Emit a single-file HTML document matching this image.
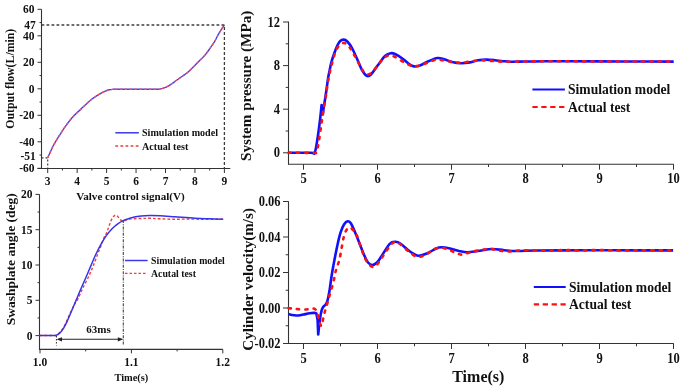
<!DOCTYPE html>
<html><head><meta charset="utf-8"><style>
html,body{margin:0;padding:0;background:#fff;width:685px;height:390px;overflow:hidden}
svg{display:block;filter:blur(0.35px)}
text{font-family:"Liberation Serif",serif;font-weight:bold;fill:#111}
</style></head><body>
<svg width="685" height="390" viewBox="0 0 685 390">
<rect width="685" height="390" fill="#fff"/>
<line x1="41.5" y1="9.3" x2="41.5" y2="169.0" stroke="#333" stroke-width="1.1" />
<line x1="37.5" y1="168.5" x2="230.3" y2="168.5" stroke="#333" stroke-width="1.1" />
<line x1="37.5" y1="168.3" x2="41.5" y2="168.3" stroke="#333" stroke-width="1" />
<line x1="39.5" y1="155.05" x2="41.5" y2="155.05" stroke="#333" stroke-width="1" />
<line x1="37.5" y1="141.8" x2="41.5" y2="141.8" stroke="#333" stroke-width="1" />
<line x1="39.5" y1="128.55" x2="41.5" y2="128.55" stroke="#333" stroke-width="1" />
<line x1="37.5" y1="115.3" x2="41.5" y2="115.3" stroke="#333" stroke-width="1" />
<line x1="39.5" y1="102.05" x2="41.5" y2="102.05" stroke="#333" stroke-width="1" />
<line x1="37.5" y1="88.8" x2="41.5" y2="88.8" stroke="#333" stroke-width="1" />
<line x1="39.5" y1="75.55" x2="41.5" y2="75.55" stroke="#333" stroke-width="1" />
<line x1="37.5" y1="62.3" x2="41.5" y2="62.3" stroke="#333" stroke-width="1" />
<line x1="39.5" y1="49.05" x2="41.5" y2="49.05" stroke="#333" stroke-width="1" />
<line x1="37.5" y1="35.8" x2="41.5" y2="35.8" stroke="#333" stroke-width="1" />
<line x1="39.5" y1="22.549999999999997" x2="41.5" y2="22.549999999999997" stroke="#333" stroke-width="1" />
<line x1="37.5" y1="9.299999999999997" x2="41.5" y2="9.299999999999997" stroke="#333" stroke-width="1" />
<line x1="47.7" y1="168.5" x2="47.7" y2="173.0" stroke="#333" stroke-width="1" />
<line x1="62.425000000000004" y1="168.5" x2="62.425000000000004" y2="170.5" stroke="#333" stroke-width="1" />
<line x1="77.15" y1="168.5" x2="77.15" y2="173.0" stroke="#333" stroke-width="1" />
<line x1="91.875" y1="168.5" x2="91.875" y2="170.5" stroke="#333" stroke-width="1" />
<line x1="106.6" y1="168.5" x2="106.6" y2="173.0" stroke="#333" stroke-width="1" />
<line x1="121.325" y1="168.5" x2="121.325" y2="170.5" stroke="#333" stroke-width="1" />
<line x1="136.05" y1="168.5" x2="136.05" y2="173.0" stroke="#333" stroke-width="1" />
<line x1="150.775" y1="168.5" x2="150.775" y2="170.5" stroke="#333" stroke-width="1" />
<line x1="165.5" y1="168.5" x2="165.5" y2="173.0" stroke="#333" stroke-width="1" />
<line x1="180.22500000000002" y1="168.5" x2="180.22500000000002" y2="170.5" stroke="#333" stroke-width="1" />
<line x1="194.95" y1="168.5" x2="194.95" y2="173.0" stroke="#333" stroke-width="1" />
<line x1="209.675" y1="168.5" x2="209.675" y2="170.5" stroke="#333" stroke-width="1" />
<line x1="224.39999999999998" y1="168.5" x2="224.39999999999998" y2="173.0" stroke="#333" stroke-width="1" />
<text transform="translate(34.5,13.299999999999997) scale(1,1.05)" font-size="11.5" text-anchor="end" >60</text>
<text transform="translate(34.5,39.8) scale(1,1.05)" font-size="11.5" text-anchor="end" >40</text>
<text transform="translate(34.5,66.3) scale(1,1.05)" font-size="11.5" text-anchor="end" >20</text>
<text transform="translate(34.5,92.8) scale(1,1.05)" font-size="11.5" text-anchor="end" >0</text>
<text transform="translate(34.5,119.3) scale(1,1.05)" font-size="11.5" text-anchor="end" >-20</text>
<text transform="translate(34.5,145.8) scale(1,1.05)" font-size="11.5" text-anchor="end" >-40</text>
<text transform="translate(34.5,172.3) scale(1,1.05)" font-size="11.5" text-anchor="end" >-60</text>
<text transform="translate(35.8,29.0) scale(1,1.05)" font-size="11.5" text-anchor="end" >47</text>
<text transform="translate(35.8,160.4) scale(1,1.05)" font-size="11.5" text-anchor="end" >-51</text>
<text transform="translate(47.7,185.0) scale(1,1.05)" font-size="11.5" text-anchor="middle" >3</text>
<text transform="translate(77.15,185.0) scale(1,1.05)" font-size="11.5" text-anchor="middle" >4</text>
<text transform="translate(106.6,185.0) scale(1,1.05)" font-size="11.5" text-anchor="middle" >5</text>
<text transform="translate(136.05,185.0) scale(1,1.05)" font-size="11.5" text-anchor="middle" >6</text>
<text transform="translate(165.5,185.0) scale(1,1.05)" font-size="11.5" text-anchor="middle" >7</text>
<text transform="translate(194.95,185.0) scale(1,1.05)" font-size="11.5" text-anchor="middle" >8</text>
<text transform="translate(224.39999999999998,185.0) scale(1,1.05)" font-size="11.5" text-anchor="middle" >9</text>
<text x="130.5" y="199.6" font-size="11.1" text-anchor="middle" >Valve control signal(V)</text>
<text transform="translate(14.3,78.7) rotate(-90)" font-size="11.8" text-anchor="middle">Output flow(L/min)</text>
<path d="M41.5,25 H224.4 V168.5" fill="none" stroke="#3c3c3c" stroke-width="1.3" stroke-dasharray="2.8,2.2"/>
<path d="M41.5,157.8 H47.7 V168.5" fill="none" stroke="#3c3c3c" stroke-width="1.2" stroke-dasharray="2,2"/>
<path d="M47.70,157.80 C48.17,156.77 49.60,153.57 50.50,151.60 C51.40,149.63 52.10,147.90 53.10,146.00 C54.10,144.10 55.42,142.00 56.50,140.20 C57.58,138.40 58.00,137.67 59.60,135.20 C61.20,132.73 63.92,128.43 66.10,125.40 C68.28,122.37 70.25,119.70 72.70,117.00 C75.15,114.30 78.30,111.58 80.80,109.20 C83.30,106.82 85.78,104.43 87.70,102.70 C89.62,100.97 90.88,99.90 92.30,98.80 C93.72,97.70 94.78,97.00 96.20,96.10 C97.62,95.20 99.27,94.22 100.80,93.40 C102.33,92.58 104.00,91.80 105.40,91.20 C106.80,90.60 107.92,90.12 109.20,89.80 C110.48,89.48 111.80,89.40 113.10,89.30 C114.40,89.20 109.85,89.22 117.00,89.20 C124.15,89.18 148.90,89.22 156.00,89.20 C163.10,89.18 158.23,89.32 159.60,89.10 C160.97,88.88 162.78,88.38 164.20,87.90 C165.62,87.42 166.82,86.88 168.10,86.20 C169.38,85.52 170.62,84.70 171.90,83.80 C173.18,82.90 174.52,81.75 175.80,80.80 C177.08,79.85 178.32,79.00 179.60,78.10 C180.88,77.20 182.22,76.30 183.50,75.40 C184.78,74.50 186.00,73.77 187.30,72.70 C188.60,71.63 189.57,70.68 191.30,69.00 C193.03,67.32 195.35,65.00 197.70,62.60 C200.05,60.20 203.27,57.10 205.40,54.60 C207.53,52.10 209.00,49.73 210.50,47.60 C212.00,45.47 213.12,43.95 214.40,41.80 C215.68,39.65 217.03,36.78 218.20,34.70 C219.37,32.62 220.37,30.92 221.40,29.30 C222.43,27.68 223.90,25.72 224.40,25.00" fill="none" stroke="#4040f2" stroke-width="1.4"/>
<path d="M47.70,157.80 C48.17,156.77 49.60,153.57 50.50,151.60 C51.40,149.63 52.10,147.90 53.10,146.00 C54.10,144.10 55.42,142.00 56.50,140.20 C57.58,138.40 58.00,137.67 59.60,135.20 C61.20,132.73 63.92,128.43 66.10,125.40 C68.28,122.37 70.25,119.70 72.70,117.00 C75.15,114.30 78.30,111.58 80.80,109.20 C83.30,106.82 85.78,104.43 87.70,102.70 C89.62,100.97 90.88,99.90 92.30,98.80 C93.72,97.70 94.78,97.00 96.20,96.10 C97.62,95.20 99.27,94.22 100.80,93.40 C102.33,92.58 104.00,91.80 105.40,91.20 C106.80,90.60 107.92,90.12 109.20,89.80 C110.48,89.48 111.80,89.40 113.10,89.30 C114.40,89.20 109.85,89.22 117.00,89.20 C124.15,89.18 148.90,89.22 156.00,89.20 C163.10,89.18 158.23,89.32 159.60,89.10 C160.97,88.88 162.78,88.38 164.20,87.90 C165.62,87.42 166.82,86.88 168.10,86.20 C169.38,85.52 170.62,84.70 171.90,83.80 C173.18,82.90 174.52,81.75 175.80,80.80 C177.08,79.85 178.32,79.00 179.60,78.10 C180.88,77.20 182.22,76.30 183.50,75.40 C184.78,74.50 186.00,73.77 187.30,72.70 C188.60,71.63 189.57,70.68 191.30,69.00 C193.03,67.32 195.35,65.00 197.70,62.60 C200.05,60.20 203.27,57.10 205.40,54.60 C207.53,52.10 209.00,49.73 210.50,47.60 C212.00,45.47 213.12,43.95 214.40,41.80 C215.68,39.65 217.03,36.78 218.20,34.70 C219.37,32.62 220.37,30.92 221.40,29.30 C222.43,27.68 223.90,25.72 224.40,25.00" fill="none" stroke="#ff5050" stroke-width="1.4" stroke-dasharray="2.4,2.4"/>
<line x1="115.3" y1="132.8" x2="138.9" y2="132.8" stroke="#3a3ae8" stroke-width="1.5" />
<line x1="115.3" y1="146" x2="138.9" y2="146" stroke="#f03c3c" stroke-width="1.4" stroke-dasharray="2.8,2.3"/>
<text x="142" y="136.3" font-size="10.1" text-anchor="start" >Simulation model</text>
<text x="142" y="149.5" font-size="10.1" text-anchor="start" >Actual test</text>
<line x1="39.5" y1="194.4" x2="39.5" y2="349.9" stroke="#333" stroke-width="1.1" />
<line x1="39.5" y1="349.4" x2="222.8" y2="349.4" stroke="#333" stroke-width="1.1" />
<line x1="35.5" y1="335.6" x2="39.5" y2="335.6" stroke="#333" stroke-width="1" />
<line x1="37.5" y1="317.95000000000005" x2="39.5" y2="317.95000000000005" stroke="#333" stroke-width="1" />
<line x1="35.5" y1="300.3" x2="39.5" y2="300.3" stroke="#333" stroke-width="1" />
<line x1="37.5" y1="282.65000000000003" x2="39.5" y2="282.65000000000003" stroke="#333" stroke-width="1" />
<line x1="35.5" y1="265.0" x2="39.5" y2="265.0" stroke="#333" stroke-width="1" />
<line x1="37.5" y1="247.35000000000002" x2="39.5" y2="247.35000000000002" stroke="#333" stroke-width="1" />
<line x1="35.5" y1="229.70000000000005" x2="39.5" y2="229.70000000000005" stroke="#333" stroke-width="1" />
<line x1="37.5" y1="212.05" x2="39.5" y2="212.05" stroke="#333" stroke-width="1" />
<line x1="35.5" y1="194.40000000000003" x2="39.5" y2="194.40000000000003" stroke="#333" stroke-width="1" />
<line x1="40.0" y1="349.4" x2="40.0" y2="353.4" stroke="#333" stroke-width="1" />
<line x1="85.70000000000005" y1="349.4" x2="85.70000000000005" y2="351.4" stroke="#333" stroke-width="1" />
<line x1="131.4000000000001" y1="349.4" x2="131.4000000000001" y2="353.4" stroke="#333" stroke-width="1" />
<line x1="177.0999999999999" y1="349.4" x2="177.0999999999999" y2="351.4" stroke="#333" stroke-width="1" />
<line x1="222.79999999999995" y1="349.4" x2="222.79999999999995" y2="353.4" stroke="#333" stroke-width="1" />
<text transform="translate(32.5,339.6) scale(1,1.05)" font-size="11.5" text-anchor="end" >0</text>
<text transform="translate(32.5,304.3) scale(1,1.05)" font-size="11.5" text-anchor="end" >5</text>
<text transform="translate(32.5,269.0) scale(1,1.05)" font-size="11.5" text-anchor="end" >10</text>
<text transform="translate(32.5,233.70000000000005) scale(1,1.05)" font-size="11.5" text-anchor="end" >15</text>
<text transform="translate(32.5,198.40000000000003) scale(1,1.05)" font-size="11.5" text-anchor="end" >20</text>
<text transform="translate(40.0,366.2) scale(1,1.05)" font-size="11.5" text-anchor="middle" >1.0</text>
<text transform="translate(131.4000000000001,366.2) scale(1,1.05)" font-size="11.5" text-anchor="middle" >1.1</text>
<text transform="translate(222.79999999999995,366.2) scale(1,1.05)" font-size="11.5" text-anchor="middle" >1.2</text>
<text x="131.4" y="381" font-size="10.4" text-anchor="middle" >Time(s)</text>
<text transform="translate(14.6,259.2) rotate(-90)" font-size="13.5" text-anchor="middle">Swashplate angle (deg)</text>
<path d="M39.50,335.50 C41.75,335.50 50.17,335.55 53.00,335.50 C55.83,335.45 55.33,335.75 56.50,335.20 C57.67,334.65 58.83,333.48 60.00,332.20 C61.17,330.92 62.42,329.28 63.50,327.50 C64.58,325.72 65.42,323.83 66.50,321.50 C67.58,319.17 68.77,316.17 70.00,313.50 C71.23,310.83 72.55,308.00 73.90,305.50 C75.25,303.00 76.65,301.33 78.10,298.50 C79.55,295.67 80.82,292.22 82.60,288.50 C84.38,284.78 87.00,280.05 88.80,276.20 C90.60,272.35 91.88,269.18 93.40,265.40 C94.92,261.62 96.65,256.73 97.90,253.50 C99.15,250.27 99.93,248.53 100.90,246.00 C101.87,243.47 102.77,240.43 103.70,238.30 C104.63,236.17 105.55,235.42 106.50,233.20 C107.45,230.98 108.43,227.52 109.40,225.00 C110.37,222.48 111.32,219.73 112.30,218.10 C113.28,216.47 114.33,215.40 115.30,215.20 C116.27,215.00 117.25,216.13 118.10,216.90 C118.95,217.67 119.53,219.12 120.40,219.80 C121.27,220.48 121.97,221.10 123.30,221.00 C124.63,220.90 126.58,219.58 128.40,219.20 C130.22,218.82 131.88,218.82 134.20,218.70 C136.52,218.58 139.67,218.57 142.30,218.50 C144.93,218.43 147.05,218.25 150.00,218.30 C152.95,218.35 155.83,218.63 160.00,218.80 C164.17,218.97 170.00,219.27 175.00,219.30 C180.00,219.33 185.00,218.98 190.00,219.00 C195.00,219.02 199.47,219.37 205.00,219.40 C210.53,219.43 220.17,219.23 223.20,219.20" fill="none" stroke="#f03c3c" stroke-width="1.4" stroke-dasharray="2.8,2"/>
<path d="M39.50,335.50 C41.75,335.50 50.25,335.52 53.00,335.50 C55.75,335.48 54.93,335.75 56.00,335.40 C57.07,335.05 58.15,334.58 59.40,333.40 C60.65,332.22 62.25,330.22 63.50,328.30 C64.75,326.38 65.75,324.32 66.90,321.90 C68.05,319.48 69.25,316.48 70.40,313.80 C71.55,311.12 72.78,308.22 73.80,305.80 C74.82,303.38 75.40,301.93 76.50,299.30 C77.60,296.67 78.85,293.60 80.40,290.00 C81.95,286.40 84.13,281.55 85.80,277.70 C87.47,273.85 88.82,270.60 90.40,266.90 C91.98,263.20 93.57,259.22 95.30,255.50 C97.03,251.78 98.93,247.95 100.80,244.60 C102.67,241.25 104.58,238.08 106.50,235.40 C108.42,232.72 110.37,230.47 112.30,228.50 C114.23,226.53 116.27,224.92 118.10,223.60 C119.93,222.28 121.38,221.48 123.30,220.60 C125.22,219.72 127.78,218.92 129.60,218.30 C131.42,217.68 132.30,217.28 134.20,216.90 C136.10,216.52 138.50,216.22 141.00,216.00 C143.50,215.78 146.03,215.63 149.20,215.60 C152.37,215.57 155.70,215.60 160.00,215.80 C164.30,216.00 169.17,216.40 175.00,216.80 C180.83,217.20 189.17,217.87 195.00,218.20 C200.83,218.53 205.30,218.63 210.00,218.80 C214.70,218.97 221.00,219.13 223.20,219.20" fill="none" stroke="#3434ec" stroke-width="1.5"/>
<line x1="56.4" y1="336" x2="56.4" y2="345.5" stroke="#222" stroke-width="1" stroke-dasharray="1.5,1.5"/>
<line x1="123.3" y1="220" x2="123.3" y2="345.5" stroke="#444" stroke-width="1.1" stroke-dasharray="3,1.2,1,1.2"/>
<line x1="58" y1="339.3" x2="121.5" y2="339.3" stroke="#222" stroke-width="1.1" />
<path d="M56.6,339.3 L62,337.2 L62,341.4 Z" fill="#222"/>
<path d="M123.2,339.3 L117.8,337.2 L117.8,341.4 Z" fill="#222"/>
<text x="98.5" y="333.2" font-size="11" text-anchor="middle" >63ms</text>
<line x1="125" y1="260.5" x2="147.6" y2="260.5" stroke="#3a3ae8" stroke-width="1.5" />
<line x1="125" y1="273.4" x2="147.6" y2="273.4" stroke="#f03c3c" stroke-width="1.3" stroke-dasharray="2.5,2"/>
<text x="151" y="264" font-size="9.8" text-anchor="start" >Simulation model</text>
<text x="151" y="277" font-size="9.8" text-anchor="start" >Acutal test</text>
<line x1="288.5" y1="21.6" x2="288.5" y2="164.7" stroke="#333" stroke-width="1.1" />
<line x1="288.5" y1="164.2" x2="673.7" y2="164.2" stroke="#333" stroke-width="1.1" />
<line x1="283.0" y1="152.8" x2="288.5" y2="152.8" stroke="#333" stroke-width="1" />
<line x1="285.7" y1="131.0" x2="288.5" y2="131.0" stroke="#333" stroke-width="1" />
<line x1="283.0" y1="109.20000000000002" x2="288.5" y2="109.20000000000002" stroke="#333" stroke-width="1" />
<line x1="285.7" y1="87.4" x2="288.5" y2="87.4" stroke="#333" stroke-width="1" />
<line x1="283.0" y1="65.60000000000001" x2="288.5" y2="65.60000000000001" stroke="#333" stroke-width="1" />
<line x1="285.7" y1="43.80000000000001" x2="288.5" y2="43.80000000000001" stroke="#333" stroke-width="1" />
<line x1="283.0" y1="22.0" x2="288.5" y2="22.0" stroke="#333" stroke-width="1" />
<line x1="303.5" y1="164.2" x2="303.5" y2="169.7" stroke="#333" stroke-width="1" />
<line x1="340.5" y1="164.2" x2="340.5" y2="167.0" stroke="#333" stroke-width="1" />
<line x1="377.5" y1="164.2" x2="377.5" y2="169.7" stroke="#333" stroke-width="1" />
<line x1="414.5" y1="164.2" x2="414.5" y2="167.0" stroke="#333" stroke-width="1" />
<line x1="451.5" y1="164.2" x2="451.5" y2="169.7" stroke="#333" stroke-width="1" />
<line x1="488.5" y1="164.2" x2="488.5" y2="167.0" stroke="#333" stroke-width="1" />
<line x1="525.5" y1="164.2" x2="525.5" y2="169.7" stroke="#333" stroke-width="1" />
<line x1="562.5" y1="164.2" x2="562.5" y2="167.0" stroke="#333" stroke-width="1" />
<line x1="599.5" y1="164.2" x2="599.5" y2="169.7" stroke="#333" stroke-width="1" />
<line x1="636.5" y1="164.2" x2="636.5" y2="167.0" stroke="#333" stroke-width="1" />
<line x1="673.5" y1="164.2" x2="673.5" y2="169.7" stroke="#333" stroke-width="1" />
<text transform="translate(280,157.4) scale(1,1.14)" font-size="12.5" text-anchor="end" >0</text>
<text transform="translate(280,113.80000000000001) scale(1,1.14)" font-size="12.5" text-anchor="end" >4</text>
<text transform="translate(280,70.2) scale(1,1.14)" font-size="12.5" text-anchor="end" >8</text>
<text transform="translate(280,26.6) scale(1,1.14)" font-size="12.5" text-anchor="end" >12</text>
<text transform="translate(303.5,182.8) scale(1,1.14)" font-size="12.5" text-anchor="middle" >5</text>
<text transform="translate(377.5,182.8) scale(1,1.14)" font-size="12.5" text-anchor="middle" >6</text>
<text transform="translate(451.5,182.8) scale(1,1.14)" font-size="12.5" text-anchor="middle" >7</text>
<text transform="translate(525.5,182.8) scale(1,1.14)" font-size="12.5" text-anchor="middle" >8</text>
<text transform="translate(599.5,182.8) scale(1,1.14)" font-size="12.5" text-anchor="middle" >9</text>
<text transform="translate(673.5,182.8) scale(1,1.14)" font-size="12.5" text-anchor="middle" >10</text>
<text transform="translate(250.6,85.85) rotate(-90)" font-size="15.2" text-anchor="middle">System pressure (MPa)</text>
<path d="M288.50,152.80 C292.25,152.80 306.62,152.85 311.00,152.80 C315.38,152.75 313.68,155.10 314.80,152.50 C315.92,149.90 316.85,142.45 317.70,137.20 C318.55,131.95 319.25,126.37 319.90,121.00 C320.55,115.63 321.32,107.67 321.60,105.00 L322.80,114.50 L323.60,108.00 C323.85,106.50 324.60,102.17 325.10,99.00 C325.60,95.83 326.08,92.58 326.60,89.00 C327.12,85.42 327.70,80.58 328.20,77.50 C328.70,74.42 329.08,73.00 329.60,70.50 C330.12,68.00 330.53,65.33 331.30,62.50 C332.07,59.67 333.23,56.25 334.20,53.50 C335.17,50.75 336.13,48.05 337.10,46.00 C338.07,43.95 338.90,42.27 340.00,41.20 C341.10,40.13 342.48,39.55 343.70,39.60 C344.92,39.65 345.92,40.10 347.30,41.50 C348.68,42.90 350.22,44.75 352.00,48.00 C353.78,51.25 356.33,57.33 358.00,61.00 C359.67,64.67 360.55,67.52 362.00,70.00 C363.45,72.48 365.20,75.15 366.70,75.90 C368.20,76.65 369.12,76.32 371.00,74.50 C372.88,72.68 375.67,68.08 378.00,65.00 C380.33,61.92 382.88,57.97 385.00,56.00 C387.12,54.03 388.87,53.45 390.70,53.20 C392.53,52.95 393.95,53.53 396.00,54.50 C398.05,55.47 400.83,57.42 403.00,59.00 C405.17,60.58 407.17,62.77 409.00,64.00 C410.83,65.23 412.17,66.15 414.00,66.40 C415.83,66.65 417.67,66.32 420.00,65.50 C422.33,64.68 425.10,62.75 428.00,61.50 C430.90,60.25 434.57,58.33 437.40,58.00 C440.23,57.67 442.57,58.83 445.00,59.50 C447.43,60.17 449.38,61.38 452.00,62.00 C454.62,62.62 457.70,63.13 460.70,63.20 C463.70,63.27 467.12,62.88 470.00,62.40 C472.88,61.92 475.30,60.77 478.00,60.30 C480.70,59.83 483.37,59.62 486.20,59.60 C489.03,59.58 492.20,59.93 495.00,60.20 C497.80,60.47 500.20,60.93 503.00,61.20 C505.80,61.47 508.13,61.75 511.80,61.80 C515.47,61.85 519.47,61.60 525.00,61.50 C530.53,61.40 537.50,61.23 545.00,61.20 C552.50,61.17 560.83,61.27 570.00,61.30 C579.17,61.33 588.33,61.37 600.00,61.40 C611.67,61.43 627.72,61.47 640.00,61.50 C652.28,61.53 668.08,61.58 673.70,61.60" fill="none" stroke="#1010ff" stroke-width="2.6" stroke-linejoin="round"/>
<path d="M288.50,152.80 C292.58,152.80 308.38,152.87 313.00,152.80 C317.62,152.73 315.30,153.88 316.20,152.40 C317.10,150.92 317.67,147.67 318.40,143.90 C319.13,140.13 319.98,133.90 320.60,129.80 C321.22,125.70 321.60,122.78 322.10,119.30 C322.60,115.82 323.02,112.45 323.60,108.90 C324.18,105.35 325.10,100.98 325.60,98.00 C326.10,95.02 326.20,93.78 326.60,91.00 C327.00,88.22 327.43,84.55 328.00,81.30 C328.57,78.05 329.28,74.67 330.00,71.50 C330.72,68.33 331.43,65.45 332.30,62.30 C333.17,59.15 334.08,55.38 335.20,52.60 C336.32,49.82 337.57,47.20 339.00,45.60 C340.43,44.00 342.35,43.05 343.80,43.00 C345.25,42.95 346.33,43.97 347.70,45.30 C349.07,46.63 350.28,48.22 352.00,51.00 C353.72,53.78 356.33,58.92 358.00,62.00 C359.67,65.08 360.67,67.48 362.00,69.50 C363.33,71.52 364.58,73.43 366.00,74.10 C367.42,74.77 368.67,74.77 370.50,73.50 C372.33,72.23 374.92,68.92 377.00,66.50 C379.08,64.08 381.08,60.85 383.00,59.00 C384.92,57.15 386.67,55.82 388.50,55.40 C390.33,54.98 391.92,55.65 394.00,56.50 C396.08,57.35 398.67,59.17 401.00,60.50 C403.33,61.83 405.83,63.58 408.00,64.50 C410.17,65.42 412.00,65.83 414.00,66.00 C416.00,66.17 417.67,66.08 420.00,65.50 C422.33,64.92 425.37,63.45 428.00,62.50 C430.63,61.55 433.13,60.13 435.80,59.80 C438.47,59.47 441.30,60.13 444.00,60.50 C446.70,60.87 449.22,61.62 452.00,62.00 C454.78,62.38 457.70,62.88 460.70,62.80 C463.70,62.72 466.62,61.92 470.00,61.50 C473.38,61.08 477.67,60.42 481.00,60.30 C484.33,60.18 486.83,60.58 490.00,60.80 C493.17,61.02 496.33,61.43 500.00,61.60 C503.67,61.77 507.83,61.82 512.00,61.80 C516.17,61.78 519.50,61.58 525.00,61.50 C530.50,61.42 537.50,61.33 545.00,61.30 C552.50,61.27 560.83,61.27 570.00,61.30 C579.17,61.33 588.33,61.47 600.00,61.50 C611.67,61.53 627.72,61.48 640.00,61.50 C652.28,61.52 668.08,61.58 673.70,61.60" fill="none" stroke="#ff1010" stroke-width="2.6" stroke-dasharray="2.3,6.1" stroke-linecap="round"/>
<line x1="532.4" y1="89.5" x2="564.9" y2="89.5" stroke="#1010ff" stroke-width="2.2" />
<line x1="532.4" y1="107" x2="564.9" y2="107" stroke="#ff1010" stroke-width="2.2" stroke-dasharray="5.3,3.6"/>
<text x="568" y="94.3" font-size="13.6" text-anchor="start" >Simulation model</text>
<text x="568" y="111.8" font-size="13.6" text-anchor="start" >Actual test</text>
<line x1="288.5" y1="201.3" x2="288.5" y2="344.0" stroke="#333" stroke-width="1.1" />
<line x1="288.5" y1="343.5" x2="673.7" y2="343.5" stroke="#333" stroke-width="1.1" />
<line x1="283.0" y1="343.5" x2="288.5" y2="343.5" stroke="#333" stroke-width="1" />
<line x1="285.7" y1="325.75" x2="288.5" y2="325.75" stroke="#333" stroke-width="1" />
<line x1="283.0" y1="308.0" x2="288.5" y2="308.0" stroke="#333" stroke-width="1" />
<line x1="285.7" y1="290.25" x2="288.5" y2="290.25" stroke="#333" stroke-width="1" />
<line x1="283.0" y1="272.5" x2="288.5" y2="272.5" stroke="#333" stroke-width="1" />
<line x1="285.7" y1="254.75" x2="288.5" y2="254.75" stroke="#333" stroke-width="1" />
<line x1="283.0" y1="237.0" x2="288.5" y2="237.0" stroke="#333" stroke-width="1" />
<line x1="285.7" y1="219.25" x2="288.5" y2="219.25" stroke="#333" stroke-width="1" />
<line x1="283.0" y1="201.5" x2="288.5" y2="201.5" stroke="#333" stroke-width="1" />
<line x1="303.5" y1="343.5" x2="303.5" y2="349.0" stroke="#333" stroke-width="1" />
<line x1="340.5" y1="343.5" x2="340.5" y2="346.3" stroke="#333" stroke-width="1" />
<line x1="377.5" y1="343.5" x2="377.5" y2="349.0" stroke="#333" stroke-width="1" />
<line x1="414.5" y1="343.5" x2="414.5" y2="346.3" stroke="#333" stroke-width="1" />
<line x1="451.5" y1="343.5" x2="451.5" y2="349.0" stroke="#333" stroke-width="1" />
<line x1="488.5" y1="343.5" x2="488.5" y2="346.3" stroke="#333" stroke-width="1" />
<line x1="525.5" y1="343.5" x2="525.5" y2="349.0" stroke="#333" stroke-width="1" />
<line x1="562.5" y1="343.5" x2="562.5" y2="346.3" stroke="#333" stroke-width="1" />
<line x1="599.5" y1="343.5" x2="599.5" y2="349.0" stroke="#333" stroke-width="1" />
<line x1="636.5" y1="343.5" x2="636.5" y2="346.3" stroke="#333" stroke-width="1" />
<line x1="673.5" y1="343.5" x2="673.5" y2="349.0" stroke="#333" stroke-width="1" />
<text transform="translate(280.5,206.1) scale(1,1.14)" font-size="12.5" text-anchor="end" >0.06</text>
<text transform="translate(280.5,241.6) scale(1,1.14)" font-size="12.5" text-anchor="end" >0.04</text>
<text transform="translate(280.5,277.1) scale(1,1.14)" font-size="12.5" text-anchor="end" >0.02</text>
<text transform="translate(280.5,312.6) scale(1,1.14)" font-size="12.5" text-anchor="end" >0.00</text>
<text transform="translate(280.5,348.1) scale(1,1.14)" font-size="12.5" text-anchor="end" >-0.02</text>
<text transform="translate(303.5,363.3) scale(1,1.14)" font-size="12.5" text-anchor="middle" >5</text>
<text transform="translate(377.5,363.3) scale(1,1.14)" font-size="12.5" text-anchor="middle" >6</text>
<text transform="translate(451.5,363.3) scale(1,1.14)" font-size="12.5" text-anchor="middle" >7</text>
<text transform="translate(525.5,363.3) scale(1,1.14)" font-size="12.5" text-anchor="middle" >8</text>
<text transform="translate(599.5,363.3) scale(1,1.14)" font-size="12.5" text-anchor="middle" >9</text>
<text transform="translate(673.5,363.3) scale(1,1.14)" font-size="12.5" text-anchor="middle" >10</text>
<text x="478.3" y="382" font-size="16" text-anchor="middle" >Time(s)</text>
<text transform="translate(253,279.4) rotate(-90)" font-size="15.1" text-anchor="middle">Cylinder velocity(m/s)</text>
<path d="M288.50,314.10 C289.08,314.25 290.73,314.77 292.00,315.00 C293.27,315.23 294.77,315.45 296.10,315.50 C297.43,315.55 298.77,315.45 300.00,315.30 C301.23,315.15 301.90,314.95 303.50,314.60 C305.10,314.25 307.77,313.48 309.60,313.20 C311.43,312.92 313.37,312.87 314.50,312.90 C315.63,312.93 316.08,313.32 316.40,313.40 L317.60,320.00 L318.20,334.50 L319.40,323.00 C319.67,321.33 320.52,315.42 321.00,313.00 C321.48,310.58 321.83,309.63 322.30,308.50 C322.77,307.37 323.20,306.90 323.80,306.20 C324.40,305.50 325.30,305.20 325.90,304.30 C326.50,303.40 326.95,302.27 327.40,300.80 C327.85,299.33 328.23,297.30 328.60,295.50 C328.97,293.70 329.03,293.67 329.60,290.00 C330.17,286.33 331.03,279.32 332.00,273.50 C332.97,267.68 334.40,260.27 335.40,255.10 C336.40,249.93 337.15,246.25 338.00,242.50 C338.85,238.75 339.50,235.60 340.50,232.60 C341.50,229.60 342.80,226.38 344.00,224.50 C345.20,222.62 346.53,221.47 347.70,221.30 C348.87,221.13 349.47,220.93 351.00,223.50 C352.53,226.07 354.72,231.43 356.90,236.70 C359.08,241.97 362.25,250.80 364.10,255.10 C365.95,259.40 366.63,260.85 368.00,262.50 C369.37,264.15 370.80,265.00 372.30,265.00 C373.80,265.00 375.47,263.97 377.00,262.50 C378.53,261.03 379.38,259.32 381.50,256.20 C383.62,253.08 387.37,246.20 389.70,243.80 C392.03,241.40 393.62,241.77 395.50,241.80 C397.38,241.83 398.58,242.38 401.00,244.00 C403.42,245.62 407.08,249.55 410.00,251.50 C412.92,253.45 415.50,255.45 418.50,255.70 C421.50,255.95 425.08,254.20 428.00,253.00 C430.92,251.80 433.70,249.45 436.00,248.50 C438.30,247.55 439.47,247.30 441.80,247.30 C444.13,247.30 447.13,247.88 450.00,248.50 C452.87,249.12 456.10,250.37 459.00,251.00 C461.90,251.63 464.23,252.30 467.40,252.30 C470.57,252.30 473.90,251.55 478.00,251.00 C482.10,250.45 487.67,249.13 492.00,249.00 C496.33,248.87 500.00,249.87 504.00,250.20 C508.00,250.53 510.83,250.95 516.00,251.00 C521.17,251.05 527.67,250.60 535.00,250.50 C542.33,250.40 549.17,250.43 560.00,250.40 C570.83,250.37 586.67,250.30 600.00,250.30 C613.33,250.30 627.82,250.38 640.00,250.40 C652.18,250.42 667.58,250.40 673.10,250.40" fill="none" stroke="#1010ff" stroke-width="2.6" stroke-linejoin="round"/>
<path d="M288.50,308.20 C289.25,308.27 291.53,308.45 293.00,308.60 C294.47,308.75 295.45,308.93 297.30,309.10 C299.15,309.27 302.23,309.58 304.10,309.60 C305.97,309.62 307.07,309.40 308.50,309.20 C309.93,309.00 311.53,308.33 312.70,308.40 C313.87,308.47 314.75,308.87 315.50,309.60 C316.25,310.33 316.62,311.02 317.20,312.80 C317.78,314.58 318.40,318.22 319.00,320.30 C319.60,322.38 320.33,324.47 320.80,325.30 C321.27,326.13 321.38,326.52 321.80,325.30 C322.22,324.08 322.73,320.50 323.30,318.00 C323.87,315.50 324.52,312.78 325.20,310.30 C325.88,307.82 326.73,305.37 327.40,303.10 C328.07,300.83 328.22,300.13 329.20,296.70 C330.18,293.27 332.17,286.95 333.30,282.50 C334.43,278.05 334.97,273.88 336.00,270.00 C337.03,266.12 338.23,264.58 339.50,259.20 C340.77,253.82 342.43,242.57 343.60,237.70 C344.77,232.83 345.48,231.72 346.50,230.00 C347.52,228.28 348.62,227.40 349.70,227.40 C350.78,227.40 351.80,228.63 353.00,230.00 C354.20,231.37 355.05,231.23 356.90,235.60 C358.75,239.97 362.08,251.38 364.10,256.20 C366.12,261.02 367.40,262.70 369.00,264.50 C370.60,266.30 372.28,267.08 373.70,267.00 C375.12,266.92 376.20,265.47 377.50,264.00 C378.80,262.53 379.28,261.38 381.50,258.20 C383.72,255.02 388.53,247.57 390.80,244.90 C393.07,242.23 393.57,242.35 395.10,242.20 C396.63,242.05 397.85,242.53 400.00,244.00 C402.15,245.47 405.17,248.87 408.00,251.00 C410.83,253.13 414.17,256.13 417.00,256.80 C419.83,257.47 422.33,256.13 425.00,255.00 C427.67,253.87 430.43,251.23 433.00,250.00 C435.57,248.77 437.90,247.68 440.40,247.60 C442.90,247.52 445.57,248.68 448.00,249.50 C450.43,250.32 452.75,251.65 455.00,252.50 C457.25,253.35 459.20,254.57 461.50,254.60 C463.80,254.63 466.05,253.38 468.80,252.70 C471.55,252.02 474.47,251.12 478.00,250.50 C481.53,249.88 486.33,248.95 490.00,249.00 C493.67,249.05 496.67,250.38 500.00,250.80 C503.33,251.22 506.67,251.55 510.00,251.50 C513.33,251.45 515.83,250.72 520.00,250.50 C524.17,250.28 530.00,250.15 535.00,250.20 C540.00,250.25 545.00,250.83 550.00,250.80 C555.00,250.77 560.00,250.05 565.00,250.00 C570.00,249.95 574.17,250.50 580.00,250.50 C585.83,250.50 593.33,250.00 600.00,250.00 C606.67,250.00 613.33,250.47 620.00,250.50 C626.67,250.53 633.33,250.22 640.00,250.20 C646.67,250.18 654.48,250.35 660.00,250.40 C665.52,250.45 670.92,250.48 673.10,250.50" fill="none" stroke="#ff1010" stroke-width="2.6" stroke-dasharray="2.3,6.1" stroke-linecap="round"/>
<line x1="533.8" y1="287" x2="565.7" y2="287" stroke="#1010ff" stroke-width="2.2" />
<line x1="533.8" y1="304.3" x2="565.7" y2="304.3" stroke="#ff1010" stroke-width="2.2" stroke-dasharray="5.3,3.6"/>
<text x="569" y="291.8" font-size="13.6" text-anchor="start" >Simulation model</text>
<text x="569" y="309.1" font-size="13.6" text-anchor="start" >Actual test</text>
</svg>
</body></html>
